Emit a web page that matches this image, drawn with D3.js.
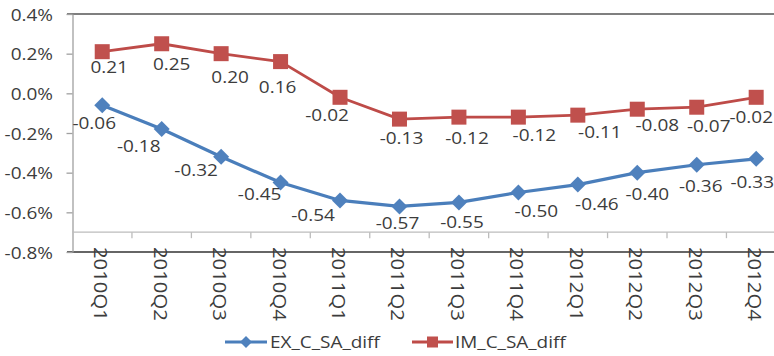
<!DOCTYPE html>
<html>
<head>
<meta charset="utf-8">
<script src="https://cdn.jsdelivr.net/npm/d3@7/dist/d3.min.js"></script>
<style>
  html, body { margin: 0; padding: 0; background: #fff; }
  svg { display: block; }
</style>
</head>
<body>
<svg id="chart" width="774" height="356"></svg>
<script>
// Quarterly series (values in percent)
const quarters = ["2010Q1", "2010Q2", "2010Q3", "2010Q4", "2011Q1", "2011Q2",
                  "2011Q3", "2011Q4", "2012Q1", "2012Q2", "2012Q3", "2012Q4"];
const exValues = [-0.06, -0.18, -0.32, -0.45, -0.54, -0.57, -0.55, -0.50, -0.46, -0.40, -0.36, -0.33];
const imValues = [0.21, 0.25, 0.20, 0.16, -0.02, -0.13, -0.12, -0.12, -0.11, -0.08, -0.07, -0.02];
const yTicks = [-0.8, -0.6, -0.4, -0.2, 0.0, 0.2, 0.4];
const seriesNames = ["EX_C_SA_diff", "IM_C_SA_diff"];

// Per-label nudges [dx, dy] of each data label relative to its point
const exLabelShift = [[-8, 18], [-23, 17], [-25, 13], [-21, 11], [-27, 15], [-2, 17],
                      [3, 20], [18, 18], [19, 19], [10, 21], [4, 21], [-4, 23]];
const imLabelShift = [[7, 15], [10, 20], [9, 23], [-3, 25], [-13, 18], [2, 19],
                      [8, 21], [16, 18], [22, 17], [20, 16], [12, 19], [-5, 20]];

const FONT = "'Open Sans', sans-serif";
const TEXT = "#3c3c3c";
const STRETCH = "scale(1.15,1)";
const BLUE = "#4a7ebb", BLUE_M = "#4f81bd";
const RED = "#be4b48", RED_M = "#c0504d";

const svg = d3.select("#chart");
const plotLeft = 72.5, bandW = 59.45;
const x = d3.scaleBand().domain(quarters).range([plotLeft, plotLeft + bandW * quarters.length]).padding(0);
const y = d3.scaleLinear().domain([-0.8, 0.4]).range([252, 14]);
const cx = q => x(q) + x.bandwidth() / 2;

const fmtLocale = d3.formatLocale({decimal: ".", thousands: ",", grouping: [3], currency: ["", ""], minus: "-"});
const fmt2 = fmtLocale.format(".2f");
const fmt1 = fmtLocale.format(".1f");

// top frame line and bottom line at the axis minimum
svg.append("line").attr("x1", 67).attr("x2", 774).attr("y1", y(0.4)).attr("y2", y(0.4))
  .attr("stroke", "#555").attr("stroke-width", 1.6);
svg.append("line").attr("x1", 67).attr("x2", 774).attr("y1", y(-0.8)).attr("y2", y(-0.8))
  .attr("stroke", "#666").attr("stroke-width", 1.8);

// value axis
const yAxis = svg.append("g")
  .attr("transform", `translate(${plotLeft},0)`)
  .call(d3.axisLeft(y).tickValues(yTicks).tickSize(6).tickSizeOuter(0).tickFormat(d => fmt1(d) + "%"));
yAxis.select(".domain").attr("stroke", "#a0a0a0").attr("stroke-width", 1.3);
yAxis.selectAll(".tick line").attr("stroke", "#a0a0a0").attr("stroke-width", 1.3);
yAxis.selectAll(".tick text")
  .attr("x", null).attr("dy", null)
  .attr("transform", `translate(-19.5,6) ${STRETCH}`)
  .attr("font-family", FONT).attr("font-size", 16.5).attr("fill", TEXT);

// category axis line crossing at -0.7% with tick marks between categories
const crossY = y(-0.7);
svg.append("line").attr("x1", plotLeft).attr("x2", 774).attr("y1", crossY).attr("y2", crossY)
  .attr("stroke", "#bcbcbc").attr("stroke-width", 1.3);
svg.append("g").selectAll("line").data(quarters.slice(1)).join("line")
  .attr("x1", d => x(d)).attr("x2", d => x(d))
  .attr("y1", crossY).attr("y2", crossY + 6)
  .attr("stroke", "#bcbcbc").attr("stroke-width", 1.3);

// category labels, rotated
svg.append("g").selectAll("text").data(quarters).join("text")
  .attr("transform", d => `translate(${cx(d) - 1.5},247) rotate(90) scale(1.13,1)`)
  .attr("dy", "0.36em")
  .attr("font-family", FONT).attr("font-size", 18).attr("fill", TEXT)
  .text(d => d);

// series
const line = d3.line().x((d, i) => cx(quarters[i])).y(d => y(d));

svg.append("path").datum(exValues).attr("d", line)
  .attr("fill", "none").attr("stroke", BLUE).attr("stroke-width", 3.2).attr("stroke-linejoin", "round");
svg.append("path").datum(imValues).attr("d", line)
  .attr("fill", "none").attr("stroke", RED).attr("stroke-width", 2.8).attr("stroke-linejoin", "round");

const diamond = s => `M0,${-s}L${s},0L0,${s}L${-s},0Z`;
svg.append("g").selectAll("path").data(exValues).join("path")
  .attr("d", diamond(8))
  .attr("transform", (d, i) => `translate(${cx(quarters[i])},${y(d)})`)
  .attr("fill", BLUE_M);
svg.append("g").selectAll("rect").data(imValues).join("rect")
  .attr("x", (d, i) => cx(quarters[i]) - 7.5).attr("y", d => y(d) - 7.5)
  .attr("width", 15).attr("height", 15)
  .attr("fill", RED_M);

// data labels
function labels(values, shifts) {
  svg.append("g").selectAll("text").data(values).join("text")
    .attr("transform", (d, i) =>
      `translate(${cx(quarters[i]) + shifts[i][0]},${y(d) + shifts[i][1] + 6}) ${STRETCH}`)
    .attr("text-anchor", "middle")
    .attr("font-family", FONT).attr("font-size", 16.5).attr("fill", TEXT)
    .text(d => fmt2(d));
}
labels(exValues, exLabelShift);
labels(imValues, imLabelShift);

// legend
const legY = 342;
const leg = svg.append("g");
leg.append("line").attr("x1", 225).attr("x2", 267).attr("y1", legY).attr("y2", legY)
  .attr("stroke", BLUE).attr("stroke-width", 3.2);
leg.append("path").attr("d", diamond(6)).attr("transform", `translate(246,${legY})`).attr("fill", BLUE_M);
leg.append("text").attr("transform", `translate(270,${legY + 6}) ${STRETCH}`)
  .attr("font-family", FONT).attr("font-size", 16.5).attr("fill", TEXT).text(seriesNames[0]);
leg.append("line").attr("x1", 412).attr("x2", 453).attr("y1", legY).attr("y2", legY)
  .attr("stroke", RED).attr("stroke-width", 2.8);
leg.append("rect").attr("x", 427).attr("y", legY - 5.5).attr("width", 11).attr("height", 11).attr("fill", RED_M);
leg.append("text").attr("transform", `translate(455,${legY + 6}) ${STRETCH}`)
  .attr("font-family", FONT).attr("font-size", 16.5).attr("fill", TEXT).text(seriesNames[1]);
</script>
</body>
</html>
